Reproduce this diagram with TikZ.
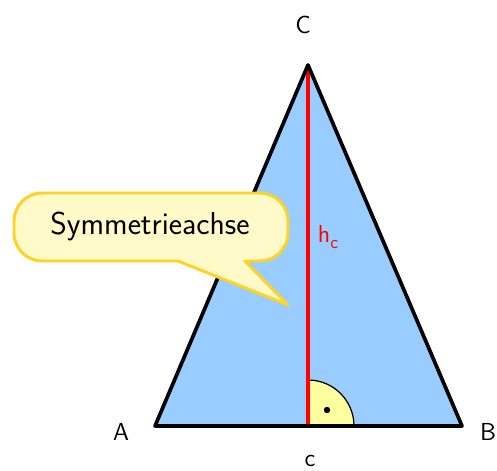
\documentclass[tikz,border=0pt]{standalone}
\usepackage{xcolor}
\usepackage{tikz}
\usetikzlibrary{positioning,calc}
\definecolor{triblue}{RGB}{153,204,255}
\definecolor{boxyellow}{RGB}{255,250,200}
\definecolor{boxgold}{RGB}{255,210,40}
\definecolor{angyellow}{RGB}{255,255,160}

\begin{document}
\begin{tikzpicture}[x=0.02cm, y=-0.02cm,
  side/.style={line width=2.1pt, line join=round},
  altitude/.style={line width=2.1pt, draw=red},
  vlabel/.style={font=\sffamily\fontsize{14}{16}\selectfont, inner sep=0pt},
  callout/.style={draw=boxgold, fill=boxyellow, line width=1.7pt, line join=round},
]
\useasboundingbox (0,0) rectangle (497,470);

% Vertices
\coordinate (A) at (155,426);
\coordinate (B) at (462,426);
\coordinate (C) at (308,65);
\coordinate (F) at (308,426);

% Triangle
\fill[triblue] (A) -- (B) -- (C) -- cycle;

% Right angle
\filldraw[fill=angyellow, draw=black, line width=0.7pt]
  (F) -- ++(46,0) arc[start angle=0, end angle=-90, radius=46] -- cycle;
\fill (327,410) circle[radius=3.2];

% Height
\draw[altitude] (F) -- (C);
\draw[side] (A) -- (B) -- (C) -- cycle;

% Labels
\node[vlabel] (lblC) at (303,25) {C};
\node[vlabel] (lblA) at (121,432) {A};
\node[vlabel] (lblB) at (488,432) {B};
\node[vlabel] (lblc) at (310,461) {c};
\node[vlabel, text=red] (lblh) at (328,237) {h\raisebox{-0.5ex}{\fontsize{10}{12}\selectfont c}};

% Callout
\draw[callout] (178,261) [rounded corners=16] -- (14,261) -- (14,193)
  -- (288,193) -- (288,261) [sharp corners] -- (245,261) -- (288,305) -- cycle;
\node[font=\sffamily\fontsize{18}{20}\selectfont] (axis) at (150,226) {Symmetrieachse};

\end{tikzpicture}
\end{document}
